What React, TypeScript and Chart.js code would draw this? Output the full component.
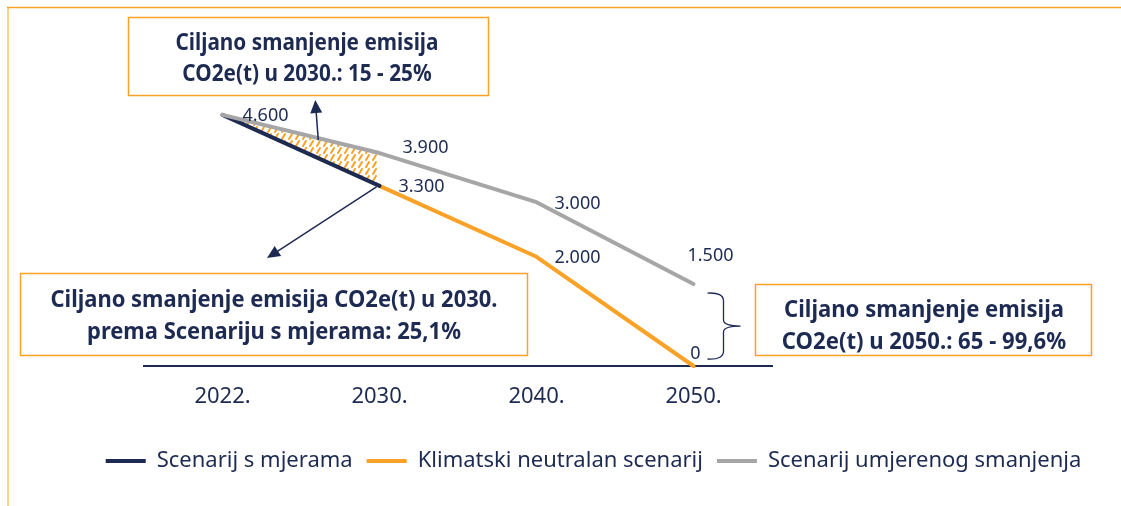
import React, { useEffect, useRef } from 'react';
import { Chart, registerables } from 'chart.js';

Chart.register(...registerables);

// ---------- DATA ----------
const categories = ['2022.', '2030.', '2040.', '2050.'];
const seriesNames = ['Scenarij s mjerama', 'Klimatski neutralan scenarij', 'Scenarij umjerenog smanjenja'];
const scenarijSMjerama = [4600, 3300, null, null];
const klimatskiNeutralan = [null, 3300, 2000, 0];
const umjerenoSmanjenje = [4600, 3900, 3000, 1500];
const ciljaniRaspon2030 = [4600, 3900, null, null]; // upper edge of the hatched target range
const yMin = 0;
const yMax = 5000;

const box2030Lines = ['Ciljano smanjenje emisija', 'CO2e(t) u 2030.: 15 - 25%'];
const boxMjereLines = ['Ciljano smanjenje emisija CO2e(t) u 2030.', 'prema Scenariju s mjerama: 25,1%'];
const box2050Lines = ['Ciljano smanjenje emisija', 'CO2e(t) u 2050.: 65 - 99,6%'];

// ---------- STYLE ----------
const NAVY = '#1d2a52';
const ORANGE = '#F9A227';
const GRAY = '#A6A6A6';
const FONT = '"Noto Sans", "Open Sans", sans-serif';

const fmt = (v: number) => String(v).replace(/\B(?=(\d{3})+(?!\d))/g, '.');

function drawArrow(ctx: CanvasRenderingContext2D, x1: number, y1: number, x2: number, y2: number) {
  const a = Math.atan2(y2 - y1, x2 - x1);
  const L = 13, W = 6;
  ctx.beginPath();
  ctx.moveTo(x1, y1);
  ctx.lineTo(x2 - (L - 2) * Math.cos(a), y2 - (L - 2) * Math.sin(a));
  ctx.stroke();
  ctx.beginPath();
  ctx.moveTo(x2, y2);
  ctx.lineTo(x2 - L * Math.cos(a) + W * Math.sin(a), y2 - L * Math.sin(a) - W * Math.cos(a));
  ctx.lineTo(x2 - L * Math.cos(a) - W * Math.sin(a), y2 - L * Math.sin(a) + W * Math.cos(a));
  ctx.closePath();
  ctx.fill();
}

type Box = { x: number; y: number; w: number; h: number; cx: number; baselines: number[]; fit: number; lines: string[] };

function drawBox(ctx: CanvasRenderingContext2D, b: Box) {
  ctx.save();
  ctx.fillStyle = '#ffffff';
  ctx.fillRect(b.x, b.y, b.w, b.h);
  ctx.strokeStyle = ORANGE;
  ctx.lineWidth = 1.5;
  ctx.strokeRect(b.x, b.y, b.w, b.h);
  ctx.font = `bold 23px ${FONT}`;
  ctx.fillStyle = NAVY;
  ctx.textAlign = 'center';
  ctx.textBaseline = 'alphabetic';
  const s = b.fit / ctx.measureText(b.lines[0]).width;
  b.lines.forEach((t, i) => {
    ctx.save();
    ctx.translate(b.cx, b.baselines[i]);
    ctx.scale(s, 1);
    ctx.fillText(t, 0, 0);
    ctx.restore();
  });
  ctx.restore();
}

const labelsPlugin = {
  id: 'valueLabels',
  afterDatasetsDraw(chart: any) {
    const ctx: CanvasRenderingContext2D = chart.ctx;
    const specs = [
      { ds: 0, i: 0, dx: 43, dy: 0 },
      { ds: 0, i: 1, dx: 42, dy: 0 },
      { ds: 2, i: 1, dx: 46, dy: -6 },
      { ds: 2, i: 2, dx: 41, dy: 0 },
      { ds: 1, i: 2, dx: 41, dy: 0 },
      { ds: 2, i: 3, dx: 17, dy: -30 },
      { ds: 1, i: 3, dx: 2, dy: -13 },
    ];
    ctx.save();
    ctx.font = `18px ${FONT}`;
    ctx.fillStyle = NAVY;
    ctx.textAlign = 'center';
    ctx.textBaseline = 'alphabetic';
    specs.forEach((s) => {
      const pt = chart.getDatasetMeta(s.ds).data[s.i];
      const v = chart.data.datasets[s.ds].data[s.i];
      if (!pt || v == null) return;
      ctx.fillText(fmt(v), pt.x + s.dx, pt.y + s.dy + 6.4);
    });
    ctx.restore();
  },
};

const annotationsPlugin = {
  id: 'annotations',
  afterDraw(chart: any) {
    const ctx: CanvasRenderingContext2D = chart.ctx;
    const xs = chart.scales.x;
    const ys = chart.scales.y;
    ctx.save();
    // outer frame
    ctx.strokeStyle = '#FFD57F';
    ctx.lineWidth = 2;
    ctx.beginPath();
    ctx.moveTo(8, 7);
    ctx.lineTo(8, 506);
    ctx.stroke();
    ctx.strokeStyle = ORANGE;
    ctx.lineWidth = 1.5;
    ctx.beginPath();
    ctx.moveTo(7, 7.5);
    ctx.lineTo(1121, 7.5);
    ctx.stroke();

    // arrows
    ctx.strokeStyle = NAVY;
    ctx.fillStyle = NAVY;
    ctx.lineWidth = 1.5;
    const gx0 = xs.getPixelForValue(0), gy0 = ys.getPixelForValue(umjerenoSmanjenje[0]);
    const gx1 = xs.getPixelForValue(1), gy1 = ys.getPixelForValue(umjerenoSmanjenje[1]);
    const t = 0.61;
    const tx = gx0 + t * (gx1 - gx0), ty = gy0 + t * (gy1 - gy0) + 2;
    drawArrow(ctx, tx, ty, tx - 3, 100);
    const nx = xs.getPixelForValue(1), ny = ys.getPixelForValue(scenarijSMjerama[1] as number);
    drawArrow(ctx, nx - 3, ny + 1, 267, 258);

    // curly bracket at 2050
    const bx = xs.getPixelForValue(3) + 14;
    const top = ys.getPixelForValue(umjerenoSmanjenje[3]) + 9;
    const bot = ys.getPixelForValue(0) - 7;
    const mid = (top + bot) / 2;
    ctx.lineWidth = 1.3;
    ctx.beginPath();
    ctx.moveTo(bx, top);
    ctx.quadraticCurveTo(bx + 16, top - 1, bx + 16, top + 8);
    ctx.lineTo(bx + 16, mid - 6);
    ctx.quadraticCurveTo(bx + 16, mid, bx + 33, mid);
    ctx.quadraticCurveTo(bx + 16, mid, bx + 16, mid + 6);
    ctx.lineTo(bx + 16, bot - 8);
    ctx.quadraticCurveTo(bx + 16, bot + 1, bx, bot);
    ctx.stroke();

    // boxes
    drawBox(ctx, { x: 128.5, y: 17.5, w: 360, h: 78, cx: 307, baselines: [50, 81], fit: 263, lines: box2030Lines });
    drawBox(ctx, { x: 20.5, y: 273.5, w: 507, h: 82, cx: 274, baselines: [307, 339], fit: 447, lines: boxMjereLines });
    drawBox(ctx, { x: 755.5, y: 284.5, w: 336, h: 71, cx: 924, baselines: [317, 349], fit: 280, lines: box2050Lines });
    ctx.restore();
  },
};

export default function App() {
  const ref = useRef<HTMLCanvasElement>(null);

  useEffect(() => {
    const canvas = ref.current!;
    const pc = document.createElement('canvas');
    pc.width = 7;
    pc.height = 7;
    const p = pc.getContext('2d')!;
    p.strokeStyle = ORANGE;
    p.lineWidth = 2;
    p.lineCap = 'round';
    p.beginPath();
    p.moveTo(2, 6);
    p.lineTo(5, 1);
    p.stroke();
    const pattern = canvas.getContext('2d')!.createPattern(pc, 'repeat');

    const lineDs = (label: string, data: (number | null)[], color: string, order: number) => ({
      label,
      data,
      order,
      borderColor: color,
      backgroundColor: color,
      borderWidth: 4,
      borderCapStyle: 'round',
      borderJoinStyle: 'round',
      pointRadius: 0,
      pointHoverRadius: 0,
      pointStyle: 'line',
      fill: false,
      tension: 0,
      clip: false,
    });

    const chart = new Chart(canvas, {
      type: 'line',
      data: {
        labels: categories,
        datasets: [
          lineDs(seriesNames[0], scenarijSMjerama, NAVY, 2),
          lineDs(seriesNames[1], klimatskiNeutralan, ORANGE, 3),
          lineDs(seriesNames[2], umjerenoSmanjenje, GRAY, 1),
          {
            label: 'range',
            data: ciljaniRaspon2030,
            order: 4,
            borderWidth: 0,
            borderColor: 'rgba(0,0,0,0)',
            backgroundColor: pattern as any,
            pointRadius: 0,
            fill: 0,
            tension: 0,
          },
        ] as any,
      },
      options: {
        responsive: false,
        animation: false,
        layout: { padding: { left: 66, right: 0, top: 93, bottom: 24 } },
        plugins: {
          tooltip: { enabled: false },
          legend: {
            position: 'bottom',
            labels: {
              usePointStyle: true,
              pointStyleWidth: 40,
              boxHeight: 22,
              padding: 14,
              color: NAVY,
              font: { family: FONT, size: 22 },
              filter: (item: any) => item.datasetIndex < 3,
              sort: (a: any, b: any) => a.datasetIndex - b.datasetIndex,
            },
          },
        },
        scales: {
          x: {
            offset: true,
            grid: { display: false, drawTicks: false },
            border: { display: true, color: NAVY, width: 2 },
            ticks: { color: NAVY, font: { family: FONT, size: 22 }, padding: 18 },
            afterFit: (s: any) => { s.height = 70; },
          },
          y: {
            min: yMin,
            max: yMax,
            grid: { display: false },
            border: { display: false },
            ticks: { display: false },
            afterFit: (s: any) => { s.width = 78; },
          },
          y2: {
            position: 'right',
            grid: { display: false },
            border: { display: false },
            ticks: { display: false },
            afterFit: (s: any) => { s.width = 349; },
          },
        },
      } as any,
      plugins: [labelsPlugin, annotationsPlugin],
    });
    return () => chart.destroy();
  }, []);

  return (
    <div style={{ position: 'absolute', left: 0, top: 0, width: 1121, height: 506, background: '#fff' }}>
      <canvas ref={ref} width={1121} height={506} style={{ display: 'block' }} />
    </div>
  );
}
